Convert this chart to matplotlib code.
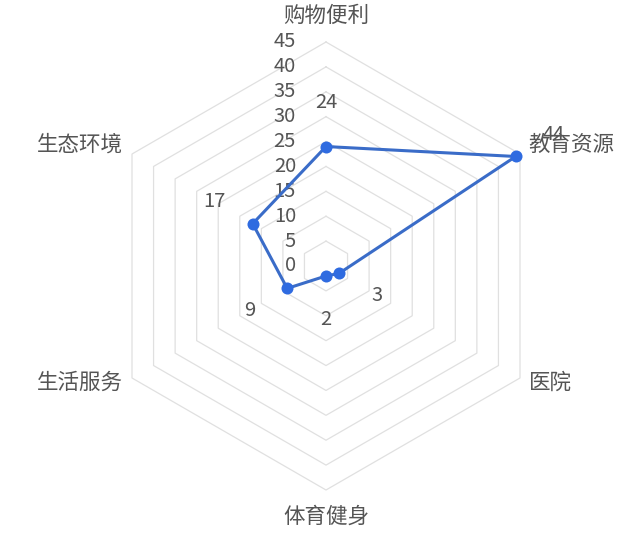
import numpy as np
import matplotlib
matplotlib.use('Agg')
import matplotlib.pyplot as plt

plt.rcParams['font.family'] = ['Noto Sans CJK SC', 'DejaVu Sans']

# data
indicators = ['购物便利', '教育资源', '医院', '体育健身', '生活服务', '生态环境']
values = [24, 44, 3, 2, 9, 17]
ring_ticks = [0, 5, 10, 15, 20, 25, 30, 35, 40, 45]
max_val = 45

text_color = '#555555'
grid_color = '#e0e0e0'
line_color = '#3a6cc8'
dot_color = '#2f6be0'

# clockwise from the top
angles = np.deg2rad(90 - 60 * np.arange(len(indicators)))
ca, sa = np.cos(angles), np.sin(angles)

px = 224.0 / max_val   # pixels per unit
cx, cy = 326, 537 - 266

fig = plt.figure(figsize=(6.32, 5.37), dpi=100)
ax = fig.add_axes([0, 0, 1, 1])
ax.set_xlim(-cx / px, (632 - cx) / px)
ax.set_ylim(-cy / px, (537 - cy) / px)
ax.set_aspect('equal')
ax.axis('off')

# hexagon rings
for r in ring_ticks[1:]:
    ax.plot(np.append(r * ca, r * ca[0]), np.append(r * sa, r * sa[0]),
            color=grid_color, lw=0.9, zorder=1)

# ring labels
for r in ring_ticks:
    ax.text(-30 / px, r, str(r), ha='right', va='center', fontsize=14.5,
            color=text_color, zorder=2)

# indicator names
for name, a, c, s in zip(indicators, angles, ca, sa):
    if abs(c) < 0.1:
        ax.text(0, 50.3 * s, name, ha='center', va='center', fontsize=15.5,
                color=text_color)
    else:
        ax.text(47 * c, 47 * s + (0.8 if s > 0 else 0), name,
                ha='left' if c > 0 else 'right', va='center', fontsize=15.5,
                color=text_color)

# series
v = np.array(values, dtype=float)
xs, ys = v * ca, v * sa
ax.plot(np.append(xs, xs[0]), np.append(ys, ys[0]), color=line_color,
        lw=2.2, zorder=3)
ax.scatter(xs, ys, s=75, color=dot_color, zorder=4, linewidths=0)

# value labels, pushed outward along each axis
for val, c, s in zip(values, ca, sa):
    ax.text((val + 8.8) * c, (val + 8.8) * s, str(val), ha='center',
            va='center', fontsize=14.5, color=text_color, zorder=5)

fig.savefig('out.png', dpi=100)
